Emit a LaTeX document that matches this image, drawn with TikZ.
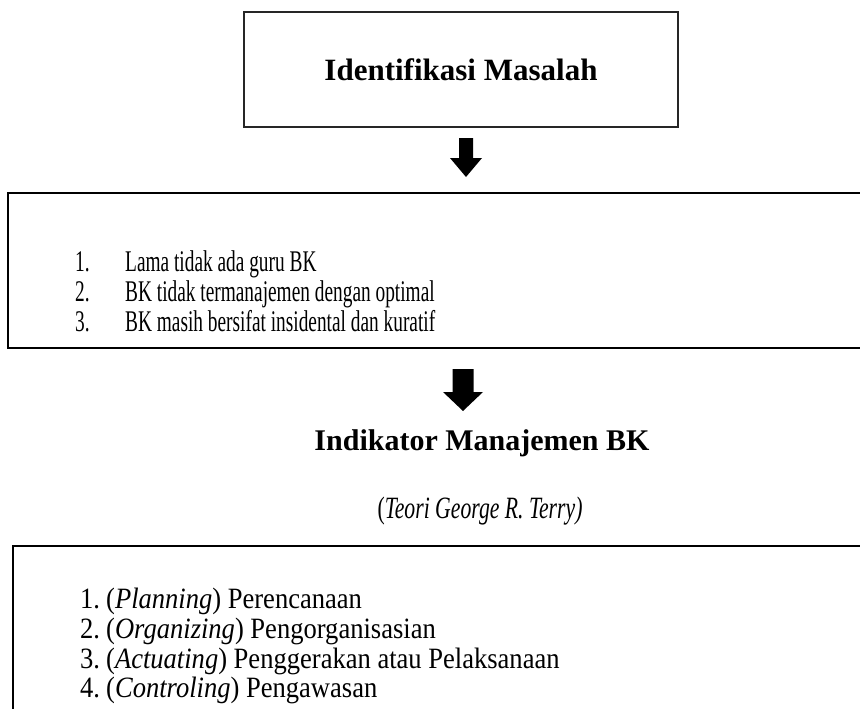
\documentclass[tikz,border=0pt]{standalone}
\usepackage{fontspec}
\setmainfont{Liberation Serif}
\newfontfamily\condA[FakeStretch=0.645]{Liberation Serif}
\newfontfamily\condB[FakeStretch=0.9]{Liberation Serif}
\newfontfamily\condC[FakeStretch=0.70]{Liberation Serif}
\usetikzlibrary{calc}
\begin{document}
\begin{tikzpicture}[x=1pt,y=-1pt,
  titlebox/.style={draw=black!85, line width=1.4pt, minimum width=434pt, minimum height=115pt, inner sep=0pt, font=\fontsize{31}{36}\selectfont\bfseries},
  heading/.style={inner sep=0pt, font=\fontsize{30}{36}\selectfont\bfseries},
  subheading/.style={inner sep=0pt, font=\fontsize{31}{34}\selectfont\condC\itshape},
  listA/.style={anchor=base west, inner sep=0pt, font=\fontsize{30}{32}\selectfont\condA},
  listB/.style={anchor=base west, inner sep=0pt, font=\fontsize{29.5}{32}\selectfont\condB},
  frameA/.style={line width=2.6pt, line join=miter},
  frameB/.style={line width=2pt, line join=miter},
  blockarrow/.style={fill=black}
]
\useasboundingbox (0,0) rectangle (860,709);

% title box
\node[titlebox] (ident) at (461,69.5) {Identifikasi Masalah};

% arrow 1
\coordinate (a1s) at (466,138);
\coordinate (a1e) at (466,177);
\fill[blockarrow] ($(a1s)+(-7,0)$) -- ($(a1s)+(7,0)$) -- ($(a1s)+(7,20)$) -- ($(a1s)+(16,20)$) -- (a1e) -- ($(a1s)+(-16,20)$) -- ($(a1s)+(-7,20)$) -- cycle;

% box 2 (open on the right)
\coordinate (b2tl) at (8,193);
\coordinate (b2bl) at (8,348);
\coordinate (b2tr) at (862,193);
\coordinate (b2br) at (862,348);
\draw[frameA] (b2tr) -- (b2tl) -- (b2bl) -- (b2br);

\node[listA] (p1n) at (75,271) {1.};
\node[listA] (p1t) at (125,271) {Lama tidak ada guru BK};
\node[listA] (p2n) at (75,301) {2.};
\node[listA] (p2t) at (125,301) {BK tidak termanajemen dengan optimal};
\node[listA] (p3n) at (75,331) {3.};
\node[listA] (p3t) at (125,331) {BK masih bersifat insidental dan kuratif};

% arrow 2
\coordinate (a2s) at (463,369);
\coordinate (a2e) at (463,411);
\fill[blockarrow] ($(a2s)+(-10.5,0)$) -- ($(a2s)+(10.5,0)$) -- ($(a2s)+(10.5,23)$) -- ($(a2s)+(20,23)$) -- (a2e) -- ($(a2s)+(-20,23)$) -- ($(a2s)+(-10.5,23)$) -- cycle;

% headings
\node[heading] (indik) at (482,443) {Indikator Manajemen BK};
\node[subheading] (teori) at (480,511) {{\upshape(}Teori George R. Terry)};

% box 3 (open on the right and bottom)
\coordinate (b3tr) at (862,546);
\coordinate (b3tl) at (13,546);
\coordinate (b3bl) at (13,712);
\draw[frameB] (b3tr) -- (b3tl) -- (b3bl);

\node[listB] (q1n) at (80,608) {1.};
\node[listB] (q1t) at (106,608) {(\textit{Planning}) Perencanaan};
\node[listB] (q2n) at (80,638) {2.};
\node[listB] (q2t) at (106,638) {(\textit{Organizing}) Pengorganisasian};
\node[listB] (q3n) at (80,668) {3.};
\node[listB] (q3t) at (106,668) {(\textit{Actuating}) Penggerakan atau Pelaksanaan};
\node[listB] (q4n) at (80,697) {4.};
\node[listB] (q4t) at (106,697) {(\textit{Controling}) Pengawasan};
\end{tikzpicture}
\end{document}
